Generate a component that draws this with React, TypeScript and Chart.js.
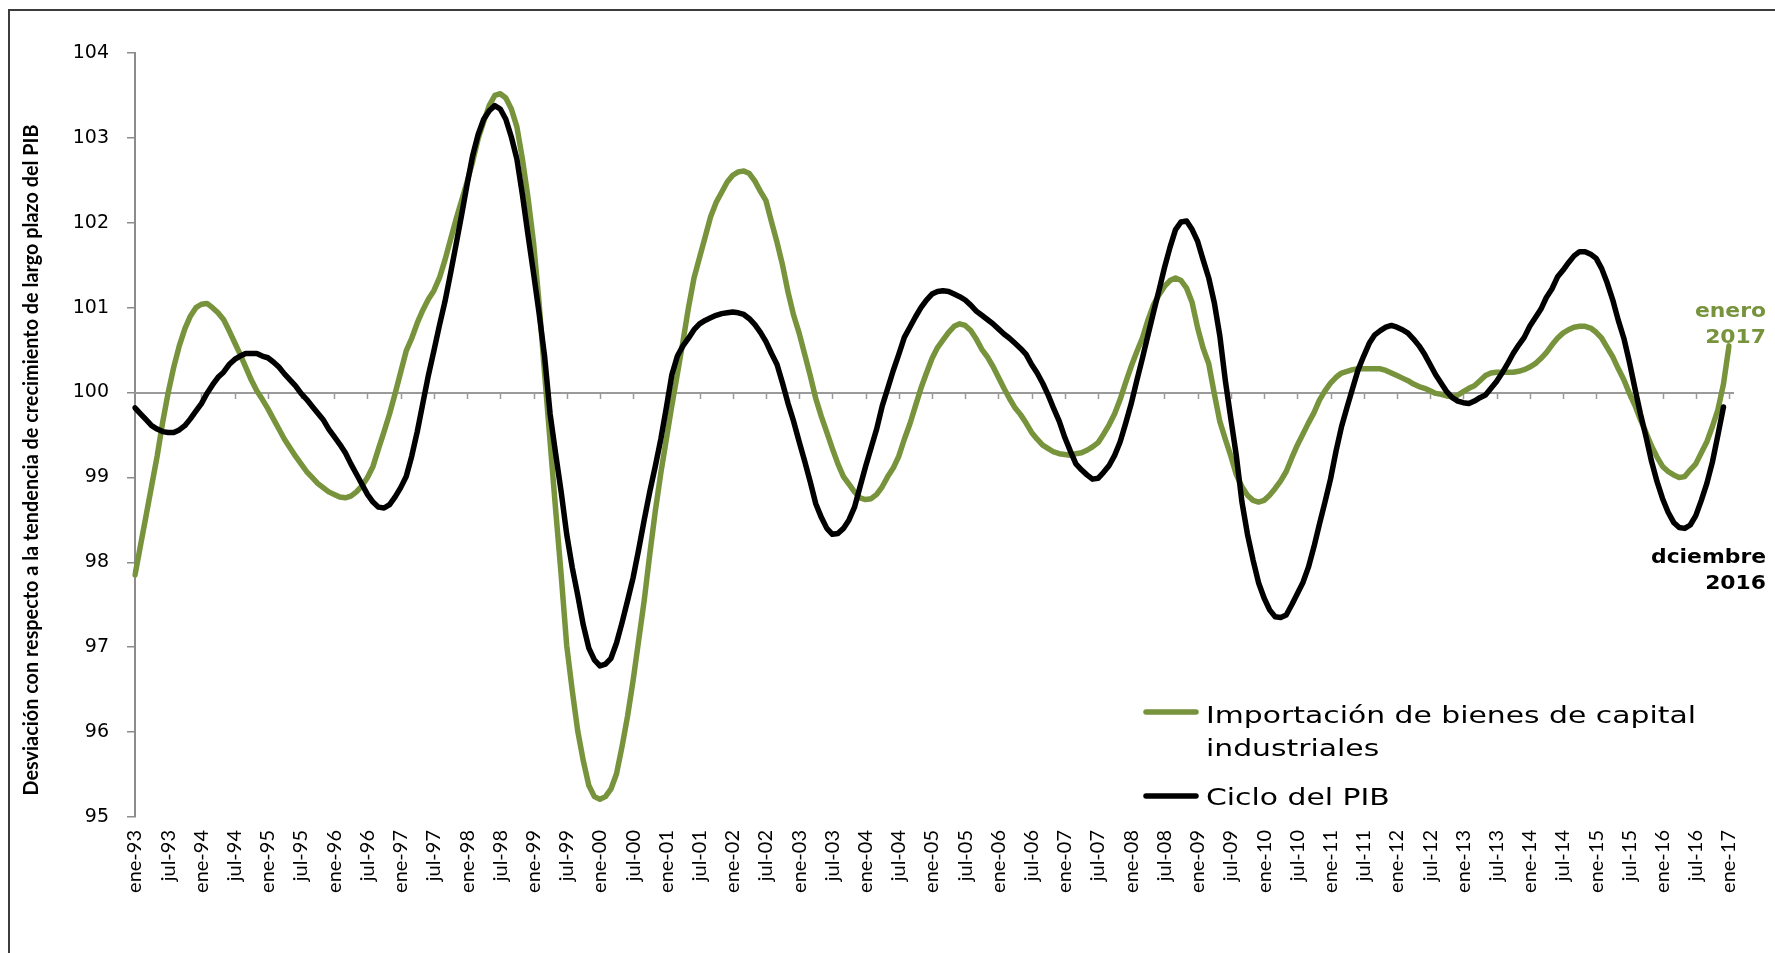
import React, { useEffect, useRef } from 'react';
import { Chart, registerables } from 'chart.js';

Chart.register(...registerables);

// ---------- data ----------
const MONTHS = ['ene', 'feb', 'mar', 'abr', 'may', 'jun', 'jul', 'ago', 'sep', 'oct', 'nov', 'dic'];
const FIRST_YEAR = 1993;
const LAST_YEAR = 2017; // series ends in January 2017
const TICK_EVERY = 6; // a label every six months (ene / jul)

const CATEGORIES: string[] = [];
for (let y = FIRST_YEAR; y <= LAST_YEAR; y++) {
  for (let m = 0; m < 12; m++) {
    if (y === LAST_YEAR && m > 0) break;
    CATEGORIES.push(`${MONTHS[m]}-${String(y % 100).padStart(2, '0')}`);
  }
}

const Y_MIN = 95;
const Y_MAX = 104;
const Y_STEP = 1;
const BASELINE_VALUE = 100;

const LABEL_IMPORT = 'Importación de bienes de capital industriales';
const LABEL_PIB = 'Ciclo del PIB';
const Y_TITLE = 'Desviación con respecto a la tendencia de crecimiento de largo plazo del PIB';
const NOTE_IMPORT = ['enero', '2017'];
const NOTE_PIB = ['dciembre', '2016'];

// ene-93 .. ene-17 (289 months)
const IMPORTACION = [
  97.85, 98.2, 98.55, 98.9, 99.25, 99.65, 100.0, 100.3, 100.55, 100.75, 100.9, 101.0, 101.04,
  101.05, 101.0, 100.94, 100.86, 100.73, 100.59, 100.45, 100.3, 100.15, 100.02, 99.92, 99.81,
  99.69, 99.57, 99.45, 99.35, 99.25, 99.16, 99.07, 99.0, 98.93, 98.88, 98.83, 98.8,
  98.77, 98.76, 98.78, 98.83, 98.9, 99.0, 99.13, 99.34, 99.54, 99.75, 99.99, 100.24,
  100.49, 100.64, 100.82, 100.97, 101.1, 101.2, 101.35, 101.56, 101.8, 102.04, 102.26, 102.48,
  102.72, 102.99, 103.19, 103.38, 103.5, 103.52, 103.47, 103.34, 103.13, 102.75, 102.3, 101.77,
  101.06, 100.23, 99.42, 98.62, 97.85, 97.02, 96.49, 96.01, 95.66, 95.37, 95.24, 95.21,
  95.24, 95.33, 95.51, 95.83, 96.19, 96.61, 97.08, 97.55, 98.09, 98.6, 99.05, 99.45,
  99.85, 100.22, 100.6, 101.0, 101.35, 101.59, 101.83, 102.07, 102.24, 102.36, 102.48, 102.56,
  102.6, 102.61, 102.58, 102.49, 102.37, 102.26, 102.01, 101.77, 101.5, 101.18, 100.91, 100.7,
  100.45, 100.2, 99.93, 99.72, 99.53, 99.34, 99.16, 99.01, 98.92, 98.83, 98.76, 98.74,
  98.75, 98.8, 98.89, 99.01, 99.11, 99.25, 99.45, 99.63, 99.84, 100.05, 100.23, 100.4,
  100.53, 100.62, 100.71, 100.78, 100.81, 100.79, 100.73, 100.63, 100.51, 100.42, 100.31, 100.18,
  100.05, 99.93, 99.82, 99.74, 99.64, 99.53, 99.45, 99.38, 99.34, 99.3, 99.28, 99.27,
  99.26, 99.28, 99.29, 99.32, 99.36, 99.41, 99.51, 99.62, 99.75, 99.92, 100.12, 100.31,
  100.48, 100.64, 100.85, 101.03, 101.15, 101.25, 101.32, 101.35, 101.32, 101.23, 101.06, 100.76,
  100.52, 100.34, 99.99, 99.66, 99.45, 99.25, 99.03, 98.89, 98.79, 98.73, 98.71, 98.73,
  98.79, 98.87, 98.96, 99.07, 99.23, 99.38, 99.51, 99.64, 99.76, 99.91, 100.02, 100.11,
  100.18, 100.23, 100.25, 100.27, 100.28, 100.28, 100.28, 100.28, 100.28, 100.26, 100.23, 100.2,
  100.17, 100.14, 100.1, 100.07, 100.05, 100.02, 99.99, 99.98, 99.96, 99.95, 99.97, 100.01,
  100.05, 100.08, 100.14, 100.2, 100.23, 100.24, 100.24, 100.24, 100.24, 100.25, 100.27, 100.3,
  100.34, 100.4, 100.47, 100.56, 100.64, 100.7, 100.74, 100.77, 100.78, 100.78, 100.76, 100.71,
  100.64, 100.53, 100.42, 100.28, 100.15, 99.99, 99.85, 99.68, 99.53, 99.37, 99.24, 99.13,
  99.07, 99.03, 99.0, 99.01, 99.09, 99.16, 99.29, 99.42, 99.6, 99.8, 100.1, 100.55,
];

// ene-93 .. dic-16 (288 months)
const CICLO_PIB = [
  99.82, 99.75, 99.68, 99.61, 99.57, 99.54, 99.53, 99.53, 99.56, 99.61, 99.69, 99.78,
  99.87, 99.99, 100.09, 100.18, 100.24, 100.33, 100.39, 100.43, 100.46, 100.46, 100.46, 100.43,
  100.41, 100.36, 100.3, 100.22, 100.15, 100.08, 99.99, 99.92, 99.84, 99.76, 99.68, 99.57,
  99.48, 99.39, 99.29, 99.16, 99.04, 98.92, 98.8, 98.71, 98.65, 98.64, 98.68, 98.77,
  98.88, 99.01, 99.25, 99.54, 99.87, 100.2, 100.49, 100.79, 101.07, 101.4, 101.74, 102.09,
  102.45, 102.79, 103.04, 103.22, 103.32, 103.38, 103.34, 103.22, 103.01, 102.75, 102.33, 101.86,
  101.41, 100.94, 100.43, 99.75, 99.28, 98.83, 98.33, 97.94, 97.61, 97.26, 96.99, 96.85,
  96.78, 96.8, 96.87, 97.05, 97.29, 97.55, 97.82, 98.15, 98.5, 98.83, 99.13, 99.45,
  99.82, 100.21, 100.43, 100.55, 100.64, 100.74, 100.81, 100.85, 100.88, 100.91, 100.93, 100.94,
  100.95, 100.94, 100.92, 100.87, 100.8, 100.71, 100.6, 100.46, 100.33, 100.11, 99.87, 99.66,
  99.42, 99.19, 98.95, 98.69, 98.53, 98.4, 98.33, 98.34, 98.4, 98.5, 98.65, 98.89,
  99.13, 99.35, 99.57, 99.84, 100.05, 100.26, 100.45, 100.65, 100.77, 100.89, 101.0, 101.09,
  101.16, 101.19, 101.2, 101.19, 101.16, 101.13, 101.09, 101.03, 100.96, 100.91, 100.86, 100.81,
  100.75, 100.69, 100.64, 100.58, 100.52, 100.45, 100.33, 100.23, 100.11, 99.97, 99.81, 99.66,
  99.47, 99.31, 99.16, 99.09, 99.03, 98.98, 98.99, 99.06, 99.14, 99.26, 99.42, 99.64,
  99.87, 100.14, 100.4, 100.67, 100.94, 101.2, 101.47, 101.71, 101.92, 102.01, 102.02, 101.92,
  101.78, 101.56, 101.35, 101.06, 100.67, 100.14, 99.69, 99.25, 98.71, 98.33, 98.03, 97.76,
  97.58, 97.44, 97.36, 97.35, 97.38, 97.5, 97.63, 97.76, 97.94, 98.18, 98.45, 98.71,
  98.98, 99.31, 99.6, 99.83, 100.05, 100.27, 100.43, 100.58, 100.68, 100.73, 100.77, 100.79,
  100.77, 100.74, 100.7, 100.63, 100.55, 100.45, 100.33, 100.21, 100.11, 100.01, 99.94, 99.9,
  99.88, 99.87, 99.9, 99.94, 99.97, 100.05, 100.13, 100.23, 100.34, 100.46, 100.56, 100.65,
  100.78, 100.88, 100.98, 101.12, 101.22, 101.36, 101.44, 101.53, 101.61, 101.66, 101.66, 101.63,
  101.58, 101.46, 101.29, 101.09, 100.85, 100.64, 100.36, 100.05, 99.75, 99.48, 99.19, 98.95,
  98.75, 98.59, 98.47, 98.41, 98.4, 98.44, 98.55, 98.73, 98.93, 99.18, 99.5, 99.83,
];

// ---------- styles ----------
const GREEN = '#77933C';
const BLACK = '#000000';
const AXIS_GRAY = '#8c8c8c';
const LINE_W = 5.5;
const W = 1775;
const H = 953;

function wrapWords(ctx: CanvasRenderingContext2D, text: string, maxW: number, sx: number): string[] {
  const words = text.split(' ');
  const lines: string[] = [];
  let cur = '';
  for (const w of words) {
    const test = cur ? cur + ' ' + w : w;
    if (cur && ctx.measureText(test).width * sx > maxW) {
      lines.push(cur);
      cur = w;
    } else cur = test;
  }
  if (cur) lines.push(cur);
  return lines;
}

const decorPlugin = {
  id: 'decor',
  beforeDatasetsDraw(chart: any) {
    const { ctx, chartArea, scales } = chart;
    const y = Math.round(scales.y.getPixelForValue(BASELINE_VALUE));
    ctx.save();
    ctx.strokeStyle = '#9a9a9a';
    ctx.lineWidth = 2;
    ctx.beginPath();
    ctx.moveTo(chartArea.left, y);
    ctx.lineTo(chartArea.right + 5, y);
    ctx.stroke();
    ctx.lineWidth = 1.5;
    ctx.beginPath();
    for (let i = TICK_EVERY; i < CATEGORIES.length; i += TICK_EVERY) {
      const x = Math.round(scales.x.getPixelForValue(i)) + 0.5;
      ctx.moveTo(x, y);
      ctx.lineTo(x, y + 6);
    }
    ctx.stroke();
    ctx.restore();
  },
  afterDraw(chart: any) {
    const { ctx } = chart;
    const ds = chart.data.datasets;

    // outer frame (left and top edges visible)
    ctx.save();
    ctx.strokeStyle = '#3c3c3c';
    ctx.lineWidth = 2;
    ctx.beginPath();
    ctx.moveTo(9, H);
    ctx.lineTo(9, 10);
    ctx.lineTo(W, 10);
    ctx.stroke();
    ctx.restore();

    // y-axis title
    ctx.save();
    ctx.font = "bold 20px 'Liberation Sans Narrow', 'Lato', sans-serif";
    const tw = ctx.measureText(Y_TITLE).width;
    ctx.translate(32, 460);
    ctx.rotate(-Math.PI / 2);
    ctx.scale(671 / tw, 1);
    ctx.fillStyle = '#000';
    ctx.textAlign = 'center';
    ctx.textBaseline = 'middle';
    ctx.fillText(Y_TITLE, 0, 0);
    ctx.restore();

    // legend
    ctx.save();
    ctx.font = "23px 'DejaVu Sans', sans-serif";
    ctx.fillStyle = '#000';
    ctx.textBaseline = 'alphabetic';
    const sx = 490 / ctx.measureText('Importación de bienes de capital').width;
    const entries = [
      { label: ds[0].label, color: ds[0].borderColor, lineY: 712, base: 723 },
      { label: ds[1].label, color: ds[1].borderColor, lineY: 796, base: 805 },
    ];
    for (const e of entries) {
      ctx.strokeStyle = e.color;
      ctx.lineWidth = LINE_W;
      ctx.lineCap = 'round';
      ctx.beginPath();
      ctx.moveTo(1146, e.lineY);
      ctx.lineTo(1196, e.lineY);
      ctx.stroke();
      const lines = wrapWords(ctx, e.label, 520, sx);
      lines.forEach((ln, k) => {
        ctx.save();
        ctx.translate(1206, e.base + k * 32.5);
        ctx.scale(sx, 1);
        ctx.fillText(ln, 0, 0);
        ctx.restore();
      });
    }
    ctx.restore();

    // end-point notes
    ctx.save();
    ctx.font = "bold 19px 'DejaVu Sans', sans-serif";
    const nsx = 115 / ctx.measureText(NOTE_PIB[0]).width;
    ctx.textAlign = 'right';
    const notes = [
      { lines: NOTE_IMPORT, color: GREEN, base: 317 },
      { lines: NOTE_PIB, color: BLACK, base: 563 },
    ];
    for (const n of notes) {
      ctx.fillStyle = n.color;
      n.lines.forEach((t, k) => {
        ctx.save();
        ctx.translate(1766, n.base + k * 25.5);
        ctx.scale(nsx, 1);
        ctx.fillText(t, 0, 0);
        ctx.restore();
      });
    }
    ctx.restore();
  },
};

export default function App() {
  const ref = useRef<HTMLCanvasElement>(null);

  useEffect(() => {
    document.body.style.margin = '0';
    document.body.style.overflow = 'hidden';
    const canvas = ref.current;
    if (!canvas) return;
    const chart = new Chart(canvas, {
      type: 'line',
      data: {
        labels: CATEGORIES,
        datasets: [
          {
            label: LABEL_IMPORT,
            data: IMPORTACION,
            borderColor: GREEN,
            backgroundColor: GREEN,
            borderWidth: LINE_W,
            pointRadius: 0,
            tension: 0,
            fill: false,
            borderJoinStyle: 'round',
            borderCapStyle: 'round',
            order: 2,
          },
          {
            label: LABEL_PIB,
            data: CICLO_PIB,
            borderColor: BLACK,
            backgroundColor: BLACK,
            borderWidth: LINE_W,
            pointRadius: 0,
            tension: 0,
            fill: false,
            borderJoinStyle: 'round',
            borderCapStyle: 'round',
            order: 1,
          },
        ],
      },
      options: {
        responsive: false,
        animation: false,
        devicePixelRatio: 1,
        layout: { padding: { left: 0, right: 46, top: 53, bottom: 0 } },
        plugins: {
          legend: { display: false },
          tooltip: { enabled: false },
          title: { display: false },
        },
        scales: {
          x: {
            type: 'category',
            offset: false,
            grid: { display: false, drawTicks: false },
            border: { display: false },
            ticks: {
              autoSkip: false,
              minRotation: 90,
              maxRotation: 90,
              padding: 13,
              color: '#000',
              font: { family: 'Lato', size: 20 },
              callback: (_v: any, i: number) => (i % TICK_EVERY === 0 ? CATEGORIES[i] : null),
            },
            afterFit: (s: any) => {
              s.height = 136;
            },
          },
          y: {
            min: Y_MIN,
            max: Y_MAX,
            ticks: {
              stepSize: Y_STEP,
              padding: 18,
              color: '#000',
              font: { family: 'DejaVu Sans', size: 19 },
            },
            grid: {
              drawOnChartArea: false,
              drawTicks: true,
              tickLength: 8,
              color: AXIS_GRAY,
              lineWidth: 1.5,
            },
            border: { display: true, color: AXIS_GRAY, width: 2 },
            afterFit: (s: any) => {
              s.width = 135;
            },
          },
        },
      },
      plugins: [decorPlugin],
    } as any);
    return () => chart.destroy();
  }, []);

  return <canvas ref={ref} width={W} height={H} style={{ display: 'block' }} />;
}
